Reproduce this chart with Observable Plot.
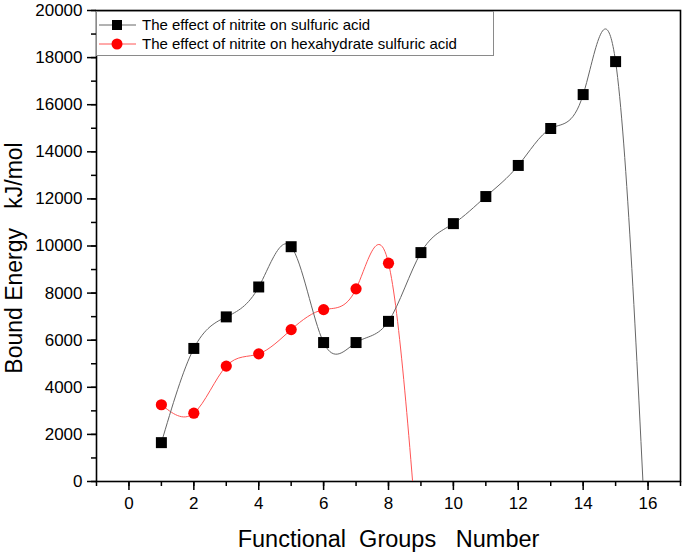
<!DOCTYPE html>
<html><head><meta charset="utf-8">
<script src="https://cdn.jsdelivr.net/npm/d3@7"></script>
<script src="https://cdn.jsdelivr.net/npm/@observablehq/plot@0.6"></script>
<style>
body{margin:0;background:#fff;font-family:"Liberation Sans",Arial,sans-serif;color:#000}
#wrap{position:relative;width:685px;height:556px}
#legend{position:absolute;left:96px;top:11px;width:398px;height:45px;border:1px solid #8a8a8a;box-sizing:border-box;background:#fff;font-size:15px}
.row{position:absolute;left:1px;height:19px;display:flex;align-items:center;white-space:nowrap}
.row svg{margin-right:4px}
svg text{white-space:pre}
</style></head><body><div id="wrap"><div id="legend"></div></div>
<script>
// Functional groups number (x) and bound energy in kJ/mol (y)
const groupsSulfuric = [1, 2, 3, 4, 5, 6, 7, 8, 9, 10, 11, 12, 13, 14, 15];
const sulfuric = [1650, 5650, 6990, 8260, 9970, 5900, 5900, 6800, 9720, 10950, 12100, 13420, 14990, 16430, 17830];
const groupsHexa = [1, 2, 3, 4, 5, 6, 7, 8];
const hexahydrate = [3260, 2900, 4900, 5420, 6450, 7300, 8180, 9270];
// each fitted curve continues below the bottom axis to one more (hidden) point; estimated
const sulfuricCurveEnd = [16, -4500];
const hexaCurveEnd = [9, -4500];
const seriesNames = ["The effect of nitrite on sulfuric acid", "The effect of nitrite on hexahydrate sulfuric acid"];
const xTickLabels = [0, 2, 4, 6, 8, 10, 12, 14, 16];
const yTickLabels = [0, 2000, 4000, 6000, 8000, 10000, 12000, 14000, 16000, 18000, 20000];
const xTitle = "Functional  Groups   Number";
const yTitle = "Bound Energy   kJ/mol";

const black = groupsSulfuric.map((x, i) => ({x, y: sulfuric[i]}));
const red = groupsHexa.map((x, i) => ({x, y: hexahydrate[i]}));
const blackLine = [...black, {x: sulfuricCurveEnd[0], y: sulfuricCurveEnd[1]}];
const redLine = [...red, {x: hexaCurveEnd[0], y: hexaCurveEnd[1]}];

const chart = Plot.plot({
  width: 685, height: 556,
  marginLeft: 96, marginRight: 5, marginTop: 10, marginBottom: 75,
  style: {fontFamily: '"Liberation Sans", Arial, sans-serif', color: "#000", background: "#fff"},
  x: {domain: [-1, 17]},
  y: {domain: [0, 20000]},
  marks: [
    Plot.axisX({ticks: d3.range(-1, 18, 1), tickSize: 5, text: null, label: null, strokeWidth: 1.5}),
    Plot.axisX({ticks: xTickLabels, tickSize: 9, tickPadding: 6, fontSize: 17, tickFormat: d => String(d), label: null, strokeWidth: 1.5}),
    Plot.axisY({ticks: d3.range(0, 20001, 1000), tickSize: 5, text: null, label: null, strokeWidth: 1.5}),
    Plot.axisY({ticks: yTickLabels, tickSize: 9, tickPadding: 5, fontSize: 17, tickFormat: d => String(d), label: null, strokeWidth: 1.5}),
    Plot.frame({stroke: "#000", strokeWidth: 1.6}),
    Plot.line(redLine, {x: "x", y: "y", curve: "natural", stroke: "#ff5555", strokeWidth: 1, clip: true}),
    Plot.line(blackLine, {x: "x", y: "y", curve: "natural", stroke: "#666", strokeWidth: 1, clip: true}),
    Plot.dot(red, {x: "x", y: "y", r: 5.6, fill: "#ff0000", stroke: "none"}),
    Plot.dot(black, {x: "x", y: "y", symbol: "square", r: 6.2, fill: "#000", stroke: "none"}),
    Plot.text([xTitle], {frameAnchor: "bottom", dy: 65, fontSize: 23.5, text: d => d, fill: "#000"}),
    Plot.text([yTitle], {frameAnchor: "left", rotate: -90, textAnchor: "middle", dx: -82, dy: 12, fontSize: 23, text: d => d, fill: "#000"})
  ]
});
document.getElementById("wrap").prepend(chart);

const legend = document.getElementById("legend");
const specs = [
  {name: seriesNames[0], line: "#666", mark: `<rect x="14" y="4" width="10" height="10" fill="#000"/>`, top: 3},
  {name: seriesNames[1], line: "#ff5555", mark: `<circle cx="19" cy="9" r="5.5" fill="#ff0000"/>`, top: 22}
];
for (const s of specs) {
  const row = document.createElement("div");
  row.className = "row";
  row.style.top = s.top + "px";
  row.innerHTML = `<svg width="40" height="18"><line x1="1" x2="38" y1="9" y2="9" stroke="${s.line}" stroke-width="1"/>${s.mark}</svg><span>${s.name}</span>`;
  legend.appendChild(row);
}
</script>
</body></html>
